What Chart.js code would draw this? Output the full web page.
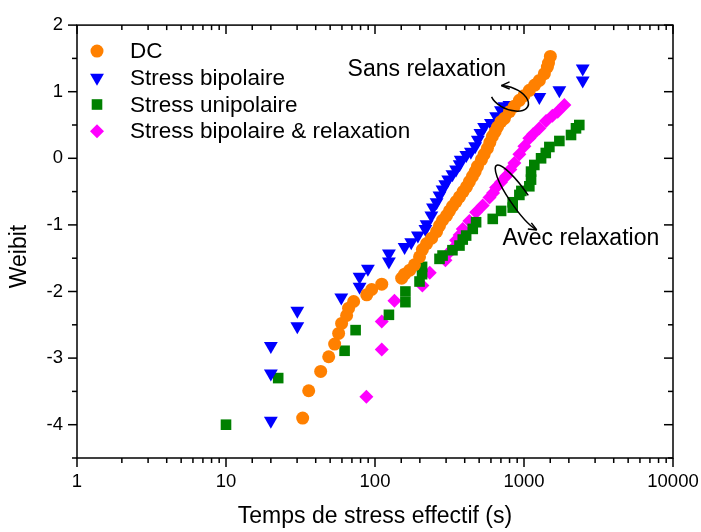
<!DOCTYPE html>
<html>
<head>
<meta charset="utf-8">
<script src="https://cdn.jsdelivr.net/npm/chart.js@4.4.1/dist/chart.umd.min.js"></script>
<style>
  body{margin:0;background:#fff}
  #wrap{width:701px;height:532px}
</style>
</head>
<body>
<div id="wrap"><canvas id="graf" width="701" height="532"></canvas></div>
<script>
// valeurs : temps (s) et Weibit de chaque serie
var dcTemps = [32.7,35.9,43.2,48.9,53.6,57,59.7,64.5,66.5,71.9,88,95,111,151,158,171,184,199,208,222,240,259,271,284,302,316,331,350,369,390,411,430,451,470,487,518,540,568,590,614,640,664,700,739,798,860,931,1000,1086,1180,1268,1370,1435,1460,1503];
var dcWeibit = [-3.9,-3.49,-3.2,-2.98,-2.79,-2.63,-2.48,-2.36,-2.25,-2.15,-2.05,-1.97,-1.89,-1.8,-1.74,-1.68,-1.6,-1.48,-1.37,-1.28,-1.2,-1.1,-1.01,-0.93,-0.86,-0.79,-0.72,-0.65,-0.58,-0.5,-0.43,-0.35,-0.27,-0.2,-0.12,-0.02,0.06,0.15,0.24,0.33,0.4,0.47,0.55,0.6,0.7,0.78,0.87,0.94,1.02,1.1,1.17,1.27,1.37,1.43,1.53];

var bipTemps = [20,20,20,30.1,30.1,59.4,78.8,78.8,89.6,124,124,158,175,194,218,222,239,245,259,271,284,296,310,331,350,370,376,410,440,470,490,510,540,600,650,700,739,798,1268,1727,2478,2478];
var bipWeibit = [-3.94,-3.23,-2.82,-2.52,-2.29,-2.09,-1.93,-1.78,-1.66,-1.55,-1.43,-1.33,-1.26,-1.16,-1.06,-0.99,-0.86,-0.74,-0.66,-0.56,-0.47,-0.39,-0.32,-0.24,-0.17,-0.09,-0.02,0.05,0.1,0.18,0.28,0.38,0.47,0.53,0.63,0.72,0.78,0.8,0.92,1.02,1.17,1.35];

var uniTemps = [10,22.4,62.5,74.1,124,160,160,199,207,207,271,284,331,369,388,409,453,477,617,702,840,840,931,960,1086,1115,1115,1173,1302,1400,1480,1727,2068,2233,2350];
var uniWeibit = [-4.0,-3.3,-2.89,-2.58,-2.35,-2.16,-2.0,-1.85,-1.74,-1.63,-1.51,-1.46,-1.38,-1.31,-1.22,-1.16,-1.06,-0.96,-0.91,-0.79,-0.74,-0.66,-0.55,-0.49,-0.42,-0.32,-0.2,-0.1,0.0,0.08,0.17,0.26,0.35,0.45,0.5];

var relTemps = [87.5,111,111,135,208,233,297,316,332,350,370,388,430,477,528,587,620,650,700,758,810,862,931,1006,1086,1150,1268,1406,1550,1683,1866];
var relWeibit = [-3.58,-2.87,-2.45,-2.14,-1.91,-1.72,-1.53,-1.41,-1.36,-1.23,-1.15,-1.06,-0.94,-0.81,-0.71,-0.59,-0.52,-0.44,-0.36,-0.27,-0.17,-0.07,0.06,0.18,0.3,0.36,0.45,0.56,0.64,0.7,0.8];

var etiquettes = ['DC','Stress bipolaire','Stress unipolaire','Stress bipolaire & relaxation'];
var xTicks = [1,10,100,1000,10000];
var yTicks = [-4,-3,-2,-1,0,1,2];

var police = "'Liberation Sans', Arial, sans-serif";
Chart.defaults.font.family = police;
Chart.defaults.color = '#000';

function points(xs, ys){
    var d = [];
    for (var i = 0; i < xs.length; i++) d.push({x: xs[i], y: ys[i]});
    return d;
}

var datasets = [
    {label: etiquettes[0], data: points(dcTemps, dcWeibit), pointStyle: 'circle', pointRadius: 6.5, pointRotation: 0, backgroundColor: '#ff8000'},
    {label: etiquettes[1], data: points(bipTemps, bipWeibit), pointStyle: 'triangle', pointRadius: 8, pointRotation: 180, backgroundColor: '#0000ff'},
    {label: etiquettes[2], data: points(uniTemps, uniWeibit), pointStyle: 'rect', pointRadius: 7.5, pointRotation: 0, backgroundColor: '#008000'},
    {label: etiquettes[3], data: points(relTemps, relWeibit), pointStyle: 'rectRot', pointRadius: 7, pointRotation: 0, backgroundColor: '#ff00ff'}
];
datasets.forEach(function(d){ d.borderWidth = 0; d.pointHoverRadius = d.pointRadius; d.showLine = false; });

function trait(c, x1, y1, x2, y2){
    c.beginPath(); c.moveTo(x1, y1); c.lineTo(x2, y2); c.stroke();
}

// cadre + graduations (majeures / mineures) + titre vertical
var cadre = {
    id: 'cadre',
    afterDraw: function(chart){
        var c = chart.ctx, a = chart.chartArea, sx = chart.scales.x, sy = chart.scales.y;
        c.save();
        c.strokeStyle = '#000'; c.lineWidth = 1.5;
        c.strokeRect(a.left, a.top, a.right - a.left, a.bottom - a.top);
        sy.ticks.forEach(function(t){
            var y = sy.getPixelForValue(t.value);
            var L = yTicks.indexOf(t.value) >= 0 ? 9 : 5;
            trait(c, a.left - L, y, a.left, y);
            trait(c, a.right - L, y, a.right, y);
        });
        sx.ticks.forEach(function(t){
            var x = sx.getPixelForValue(t.value);
            var L = xTicks.indexOf(t.value) >= 0 ? 9 : 5;
            trait(c, x, a.bottom, x, a.bottom + L);
            trait(c, x, a.top, x, a.top + L);
        });
        // Weibit, un peu sous le milieu comme sur l'original
        c.translate(20, (a.top + a.bottom) / 2 + 15);
        c.rotate(-Math.PI / 2);
        c.font = '23px ' + police;
        c.fillStyle = '#000';
        c.textAlign = 'center'; c.textBaseline = 'middle';
        c.fillText('Weibit', 0, 0);
        c.restore();
    }
};

// legende dans le cadre
var legende = {
    id: 'legende',
    afterDraw: function(chart){
        var c = chart.ctx, a = chart.chartArea;
        c.save();
        c.font = '22.5px ' + police;
        c.textBaseline = 'middle';
        chart.data.datasets.forEach(function(d, i){
            var y = a.top + 26 + i * 26.7;
            c.fillStyle = d.backgroundColor;
            Chart.helpers.drawPoint(c, {pointStyle: d.pointStyle, radius: d.pointRadius, rotation: d.pointRotation, borderWidth: 0}, a.left + 20, y);
            c.fillStyle = '#000';
            c.fillText(d.label, a.left + 53, y + 1);
        });
        c.restore();
    }
};

function fleche(c, x, y, ang){
    c.beginPath();
    c.moveTo(x, y);
    c.lineTo(x - 9 * Math.cos(ang - 0.4), y - 9 * Math.sin(ang - 0.4));
    c.moveTo(x, y);
    c.lineTo(x - 9 * Math.cos(ang + 0.4), y - 9 * Math.sin(ang + 0.4));
    c.stroke();
}

function boucle(c, cx, cy, ra, rb, rot, t1, t2){
    c.beginPath(); c.ellipse(cx, cy, ra, rb, rot, t1, t2, true); c.stroke();
    var ux = Math.cos(rot), uy = Math.sin(rot), vx = -uy, vy = ux;
    var px = cx + ra * Math.cos(t2) * ux + rb * Math.sin(t2) * vx;
    var py = cy + ra * Math.cos(t2) * uy + rb * Math.sin(t2) * vy;
    var dx = ra * Math.sin(t2) * ux - rb * Math.cos(t2) * vx;
    var dy = ra * Math.sin(t2) * uy - rb * Math.cos(t2) * vy;
    fleche(c, px, py, Math.atan2(dy, dx));
}

// annotations "Sans relaxation" / "Avec relaxation"
var notes = {
    id: 'notes',
    afterDraw: function(chart){
        var c = chart.ctx, sx = chart.scales.x, sy = chart.scales.y;
        c.save();
        c.fillStyle = '#000'; c.strokeStyle = '#000'; c.lineWidth = 1.5;
        c.font = '23px ' + police;
        c.textBaseline = 'middle';
        c.fillText('Sans relaxation', sx.getPixelForValue(65.5), sy.getPixelForValue(1.33));
        c.fillText('Avec relaxation', sx.getPixelForValue(716), sy.getPixelForValue(-1.21));
        boucle(c, sx.getPixelForValue(800), sy.getPixelForValue(0.9), 20, 11, 0.4, 2.6, -2.25);
        boucle(c, sx.getPixelForValue(930), sy.getPixelForValue(-0.6), 40, 9, 0.96, -1.5, -2 * Math.PI + 0.45);
        c.restore();
    }
};

var chart = new Chart(document.getElementById('graf').getContext('2d'), {
    type: 'scatter',
    data: {datasets: datasets},
    options: {
        responsive: false,
        animation: false,
        layout: {padding: {top: 21, right: 28, left: 0, bottom: 0}},
        plugins: {legend: {display: false}, tooltip: {enabled: false}},
        scales: {
            x: {
                type: 'logarithmic', min: 1, max: 10000,
                afterFit: function(s){ s.height = 74; s.paddingLeft = 0; s.paddingRight = 0; },
                grid: {display: false, drawTicks: false},
                border: {display: false},
                ticks: {
                    autoSkip: false, maxRotation: 0, padding: 13,
                    font: {size: 18.5},
                    callback: function(v){ return xTicks.indexOf(v) >= 0 ? String(v) : ''; }
                },
                title: {display: true, text: 'Temps de stress effectif (s)', font: {size: 23}, padding: {top: 0, bottom: 2}}
            },
            y: {
                min: -4.5, max: 2,
                afterFit: function(s){ s.width = 77; },
                grid: {display: false, drawTicks: false},
                border: {display: false},
                ticks: {
                    stepSize: 0.5, padding: 14,
                    font: {size: 18.5},
                    callback: function(v){ return yTicks.indexOf(v) >= 0 ? String(v) : ''; }
                }
            }
        }
    },
    plugins: [cadre, legende, notes]
});
</script>
</body>
</html>
